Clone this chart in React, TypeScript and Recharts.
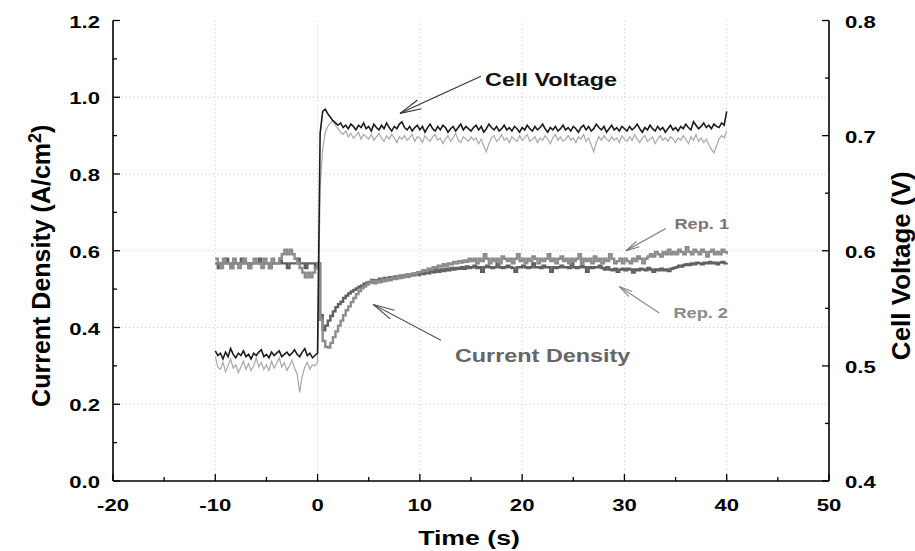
import React from 'react';
import { LineChart, Line, XAxis, YAxis, CartesianGrid, ReferenceLine, ReferenceDot } from 'recharts';

// ---- Data (time axis: -10 s .. 40 s, sampled every 0.25 s) ----
const T_START = -10;
const T_STEP = 0.25;

// Cell voltage, Rep. 1 (mV)
const voltRep1 = [
  513, 509, 511, 506, 512, 508, 515, 510, 507, 511, 509, 513, 508, 510, 506, 511, 509, 512, 514, 508,
  510, 507, 512, 509, 511, 513, 508, 510, 512, 509, 511, 514, 510, 508, 512, 515, 509, 511, 507, 509,
  511, 702, 721, 723, 719, 716, 713, 711, 709, 711, 707, 709, 706, 710, 708, 705, 709, 707, 711, 706,
  708, 704, 710, 707, 705, 709, 706, 711, 707, 704, 708, 706, 710, 712, 707, 705, 708, 704, 707, 709,
  705, 708, 703, 707, 710, 706, 704, 708, 705, 709, 707, 703, 706, 708, 704, 707, 710, 705, 708, 706,
  704, 707, 709, 705, 708, 703, 706, 710, 707, 705, 708, 704, 706, 709, 705, 707, 704, 708, 706, 703,
  707, 705, 709, 706, 704, 708, 705, 707, 710, 706, 703, 707, 705, 708, 704, 706, 709, 705, 707, 704,
  708, 706, 703, 707, 709, 705, 708, 704, 706, 710, 707, 705, 708, 703, 706, 709, 705, 707, 704, 708,
  706, 704, 708, 705, 707, 710, 706, 703, 707, 705, 709, 706, 704, 708, 705, 707, 703, 706, 709, 705,
  707, 704, 708, 706, 710, 707, 705, 712, 709, 706, 708, 711, 707, 709, 706, 710, 708, 707, 711, 709,
  721,
];

// Cell voltage, Rep. 2 (mV)
const voltRep2 = [
  508, 499, 497, 503, 495, 500, 506, 498, 501, 494, 499, 504, 497, 502, 496, 500, 507, 499, 503, 497,
  501, 496, 504, 498, 502, 507, 499, 503, 496, 500, 505, 498, 493, 477, 491, 499, 503, 497, 501, 500,
  503, 655, 688, 703, 708, 711, 713, 709, 706, 703, 701, 704, 699, 702, 698, 700, 703, 697, 701, 699,
  697, 701, 696, 699, 702, 698, 695, 700, 697, 701, 698, 694, 699, 697, 700, 696, 698, 701, 695, 699,
  698, 694, 700, 697, 695, 699, 701, 696, 698, 693, 697, 700, 695, 698, 702, 696, 694, 699, 697, 695,
  699, 696, 698, 693, 697, 691, 686, 693, 698, 700, 695, 697, 701, 696, 698, 694, 699, 697, 695, 700,
  696, 698, 701, 695, 697, 699, 694, 698, 696, 700, 697, 693, 698, 701, 696, 699, 695, 697, 700, 696,
  698, 694, 699, 697, 701, 695, 698, 692, 686, 694, 699, 696, 700, 697, 695, 699, 696, 698, 694, 700,
  697, 695, 699, 696, 701, 697, 694, 698, 700, 695, 697, 699, 693, 697, 700, 696, 698, 695, 699, 697,
  694, 698, 696, 700, 697, 693, 699, 696, 701, 695, 698, 694, 697, 692, 688, 685, 691, 697, 700, 698,
  704,
];

// Current density, Rep. 1 (mA/cm2)
const curRep1 = [
  579, 567, 555, 579, 567, 567, 555, 579, 567, 555, 567, 579, 567, 555, 567, 579, 567, 567, 555, 579,
  567, 555, 579, 567, 567, 579, 591, 603, 591, 603, 591, 579, 567, 555, 543, 531, 543, 531, 543, 555,
  567, 420, 365, 350, 348, 360, 375, 390, 405, 418, 432, 445, 455, 466, 477, 487, 495, 502, 507, 512,
  516, 521, 515, 522, 518, 525, 521, 527, 523, 530, 526, 533, 529, 536, 532, 539, 535, 541, 538, 544,
  545, 549, 547, 553, 551, 557, 555, 561, 559, 565, 561, 567, 565, 571, 567, 573, 569, 575, 571, 579,
  573, 579, 567, 579, 573, 591, 579, 567, 579, 573, 579, 567, 585, 579, 573, 579, 567, 579, 591, 573,
  579, 567, 579, 573, 585, 579, 567, 579, 573, 579, 591, 573, 579, 567, 579, 585, 573, 579, 567, 579,
  573, 579, 591, 567, 579, 573, 579, 567, 585, 573, 579, 567, 579, 573, 591, 579, 567, 573, 579, 567,
  579, 573, 567, 579, 573, 585, 579, 567, 579, 585, 591, 585, 597, 591, 585, 597, 591, 603, 591, 597,
  591, 603, 597, 591, 609, 597, 591, 603, 597, 591, 603, 597, 585, 597, 603, 591, 597, 591, 603, 597,
  591,
];

// Current density, Rep. 2 (mA/cm2)
const curRep2 = [
  567, 555, 567, 567, 579, 567, 555, 567, 567, 567, 579, 567, 567, 555, 567, 567, 567, 579, 567, 567,
  567, 555, 567, 567, 567, 579, 567, 567, 555, 567, 567, 567, 579, 567, 567, 555, 567, 567, 567, 555,
  567, 432, 393, 405, 418, 430, 442, 453, 461, 467, 477, 483, 489, 494, 498, 502, 506, 509, 514, 517,
  519, 524, 517, 523, 527, 521, 529, 524, 531, 527, 533, 529, 535, 531, 537, 533, 539, 536, 541, 537,
  543, 539, 545, 541, 547, 544, 549, 545, 551, 547, 553, 549, 555, 551, 555, 553, 557, 553, 559, 555,
  557, 561, 555, 557, 545, 557, 561, 557, 555, 557, 567, 557, 555, 557, 561, 557, 555, 545, 557, 557,
  561, 557, 555, 557, 567, 557, 557, 555, 561, 557, 557, 545, 557, 555, 557, 561, 557, 557, 555, 567,
  557, 555, 557, 561, 557, 545, 557, 555, 557, 557, 561, 555, 551, 557, 551, 549, 553, 545, 551, 553,
  549, 553, 551, 543, 551, 549, 553, 551, 549, 555, 551, 545, 551, 549, 553, 549, 551, 547, 553, 555,
  557, 561, 559, 563, 565, 563, 567, 565, 569, 567, 565, 569, 567, 571, 567, 569, 565, 569, 571, 567,
  569,
];

// ---- Axis ticks ----
const xMajor = [-20, -10, 0, 10, 20, 30, 40, 50];
const xMinor = [-15, -5, 5, 15, 25, 35, 45];
const yLeftMajor = [0, 0.2, 0.4, 0.6, 0.8, 1.0, 1.2];
const yLeftMinor = [0.1, 0.3, 0.5, 0.7, 0.9, 1.1];
const yRightMajor = [0.4, 0.5, 0.6, 0.7, 0.8];
const yRightMinor = [0.45, 0.55, 0.65, 0.75];
const gridX = [-10, 0, 10, 20, 30, 40];
const gridY = [0.2, 0.4, 0.6, 0.8, 1.0];

// ---- Annotations (data coordinates, left axis) ----
const arrowCellV = { from: { x: 15.97, y: 1.055 }, to: { x: 8.06, y: 0.958 } };
const arrowCurD = { from: { x: 12.06, y: 0.367 }, to: { x: 5.45, y: 0.46 } };
const arrowRep1 = { from: { x: 34.04, y: 0.658 }, to: { x: 30.15, y: 0.60 } };
const arrowRep2 = { from: { x: 33.4, y: 0.438 }, to: { x: 29.49, y: 0.507 } };
const labelCellV = { x: 16.37, y: 1.047, text: 'Cell Voltage' };
const labelCurD = { x: 13.43, y: 0.327, text: 'Current Density' };
const labelRep1 = { x: 34.89, y: 0.669, text: 'Rep. 1' };
const labelRep2 = { x: 34.79, y: 0.439, text: 'Rep. 2' };

const toSeries = (arr: number[], div: number) =>
  arr.map((v, i) => ({ t: T_START + i * T_STEP, v: v / div }));

const sV1 = toSeries(voltRep1, 1000);
const sV2 = toSeries(voltRep2, 1000);
const sI1 = toSeries(curRep1, 1000);
const sI2 = toSeries(curRep2, 1000);

const FONT = "'Liberation Sans', Arial, sans-serif";
const SX = 1.3;

function SText(props: any) {
  const { x, y, size, fill = '#000', anchor = 'middle', children } = props;
  return (
    <text
      transform={`translate(${x},${y}) scale(${SX},1)`}
      x={0}
      y={0}
      textAnchor={anchor}
      dominantBaseline="central"
      fontFamily={FONT}
      fontWeight="bold"
      fontSize={size}
      fill={fill}
    >
      {children}
    </text>
  );
}

function VText(props: any) {
  const { x, y, size, fill = '#000', children } = props;
  return (
    <text
      transform={`translate(${x},${y}) rotate(-90)`}
      x={0}
      y={0}
      textAnchor="middle"
      fontFamily={FONT}
      fontWeight="bold"
      fontSize={size}
      fill={fill}
    >
      {children}
    </text>
  );
}

const fmt1 = (v: number) => v.toFixed(1);
const near = (a: number[], v: number) => a.some((m) => Math.abs(m - v) < 1e-6);

const BottomTick = (p: any) => {
  const v = p.payload.value;
  const major = near(xMajor, v);
  return (
    <g>
      <line x1={p.x} x2={p.x} y1={p.y} y2={p.y - (major ? 7 : 4)} stroke="#000" strokeWidth={1.3} />
      {major && <SText x={p.x} y={p.y + 24} size={17}>{String(v)}</SText>}
    </g>
  );
};

const TopTick = (p: any) => (
  <line x1={p.x} x2={p.x} y1={p.y} y2={p.y + 5} stroke="#000" strokeWidth={1.3} />
);

const LeftTick = (p: any) => {
  const v = p.payload.value;
  const major = near(yLeftMajor, v);
  return (
    <g>
      <line x1={p.x} x2={p.x + (major ? 7 : 4)} y1={p.y} y2={p.y} stroke="#000" strokeWidth={1.3} />
      {major && <SText x={p.x - 13} y={p.y + 1} size={17} anchor="end">{fmt1(v)}</SText>}
    </g>
  );
};

const RightTick = (p: any) => {
  const v = p.payload.value;
  const major = near(yRightMajor, v);
  return (
    <g>
      <line x1={p.x - (major ? 7 : 4)} x2={p.x} y1={p.y} y2={p.y} stroke="#000" strokeWidth={1.3} />
      {major && <SText x={p.x + 16} y={p.y + 1} size={17} anchor="start">{fmt1(v)}</SText>}
    </g>
  );
};

const makeArrow = (color: string, len: number) => (p: any) => {
  const { x1, y1, x2, y2 } = p;
  const ang = Math.atan2(y1 - y2, x1 - x2);
  const spread = 0.22;
  const b1x = x2 + len * Math.cos(ang + spread);
  const b1y = y2 + len * Math.sin(ang + spread);
  const b2x = x2 + len * Math.cos(ang - spread);
  const b2y = y2 + len * Math.sin(ang - spread);
  return (
    <g stroke={color} strokeWidth={1.1} fill="none">
      <line x1={x1} y1={y1} x2={x2} y2={y2} />
      <line x1={x2} y1={y2} x2={b1x} y2={b1y} />
      <line x1={x2} y1={y2} x2={b2x} y2={b2y} />
    </g>
  );
};

const makeLabel = (text: string, size: number, color: string) => (p: any) => (
  <SText x={p.cx} y={p.cy} size={size} fill={color} anchor="start">{text}</SText>
);

export default function App() {
  return (
    <div style={{ position: 'absolute', left: 0, top: 0, background: '#fff' }}>
      <LineChart width={915} height={551} margin={{ top: 20.5, right: 0, bottom: 0, left: 0 }}>
        <CartesianGrid
          stroke="#c4c4c4"
          strokeDasharray="1 3"
          horizontalValues={gridY}
          verticalValues={gridX}
        />
        <XAxis
          dataKey="t"
          type="number"
          domain={[-20, 50]}
          ticks={[...xMajor, ...xMinor].sort((a, b) => a - b)}
          interval={0}
          tickSize={0}
          tickMargin={0}
          tick={<BottomTick />}
          tickLine={false}
          axisLine={{ stroke: '#000', strokeWidth: 1.6 }}
          height={70}
          allowDataOverflow
          label={{
            content: (lp: any) => {
              const vb = lp.viewBox;
              return (
                <SText x={vb.x + vb.width / 2 - 2} y={vb.y + 57} size={20.5}>Time (s)</SText>
              );
            },
          }}
        />
        <XAxis
          xAxisId="top"
          orientation="top"
          type="number"
          domain={[-20, 50]}
          ticks={[...xMajor, ...xMinor].sort((a, b) => a - b)}
          interval={0}
          tickSize={0}
          tickMargin={0}
          tick={<TopTick />}
          tickLine={false}
          axisLine={{ stroke: '#000', strokeWidth: 1.6 }}
          height={0}
          allowDataOverflow
        />
        <YAxis
          type="number"
          domain={[0, 1.2]}
          ticks={[...yLeftMajor, ...yLeftMinor].sort((a, b) => a - b)}
          interval={0}
          tickSize={0}
          tickMargin={0}
          tick={<LeftTick />}
          tickLine={false}
          axisLine={{ stroke: '#000', strokeWidth: 1.6 }}
          width={113}
          allowDataOverflow
          label={{
            content: (lp: any) => {
              const vb = lp.viewBox;
              return (
                <VText x={vb.x + 50} y={vb.y + vb.height / 2 + 15} size={25}>
                  Current Density (A/cm<tspan dy={-9} fontSize={18}>2</tspan><tspan dy={9}>)</tspan>
                </VText>
              );
            },
          }}
        />
        <YAxis
          yAxisId="right"
          orientation="right"
          type="number"
          domain={[0.4, 0.8]}
          ticks={[...yRightMajor, ...yRightMinor].sort((a, b) => a - b)}
          interval={0}
          tickSize={0}
          tickMargin={0}
          tick={<RightTick />}
          tickLine={false}
          axisLine={{ stroke: '#000', strokeWidth: 1.6 }}
          width={86}
          allowDataOverflow
          label={{
            content: (lp: any) => {
              const vb = lp.viewBox;
              return (
                <VText x={vb.x + 81} y={vb.y + vb.height / 2 + 15} size={26}>
                  Cell Voltage (V)
                </VText>
              );
            },
          }}
        />

        <Line data={sI2} dataKey="v" type="stepAfter" stroke="#5f5f5f" strokeWidth={2.4} dot={false} isAnimationActive={false} />
        <Line data={sI1} dataKey="v" type="stepAfter" stroke="#8c8c8c" strokeWidth={2.4} dot={false} isAnimationActive={false} />
        <Line data={sV2} dataKey="v" yAxisId="right" type="linear" stroke="#a8a8a8" strokeWidth={1.2} dot={false} isAnimationActive={false} />
        <Line data={sV1} dataKey="v" yAxisId="right" type="linear" stroke="#1c1c1c" strokeWidth={1.6} dot={false} isAnimationActive={false} />

        <ReferenceLine segment={[arrowCellV.from, arrowCellV.to]} ifOverflow="visible" shape={makeArrow('#333', 22)} />
        <ReferenceLine segment={[arrowCurD.from, arrowCurD.to]} ifOverflow="visible" shape={makeArrow('#555', 22)} />
        <ReferenceLine segment={[arrowRep1.from, arrowRep1.to]} ifOverflow="visible" shape={makeArrow('#777', 14)} />
        <ReferenceLine segment={[arrowRep2.from, arrowRep2.to]} ifOverflow="visible" shape={makeArrow('#888', 14)} />

        <ReferenceDot x={labelCellV.x} y={labelCellV.y} ifOverflow="visible" shape={makeLabel(labelCellV.text, 18, '#111')} />
        <ReferenceDot x={labelCurD.x} y={labelCurD.y} ifOverflow="visible" shape={makeLabel(labelCurD.text, 18, '#666')} />
        <ReferenceDot x={labelRep1.x} y={labelRep1.y} ifOverflow="visible" shape={makeLabel(labelRep1.text, 14, '#777')} />
        <ReferenceDot x={labelRep2.x} y={labelRep2.y} ifOverflow="visible" shape={makeLabel(labelRep2.text, 14, '#8a8a8a')} />
      </LineChart>
    </div>
  );
}
